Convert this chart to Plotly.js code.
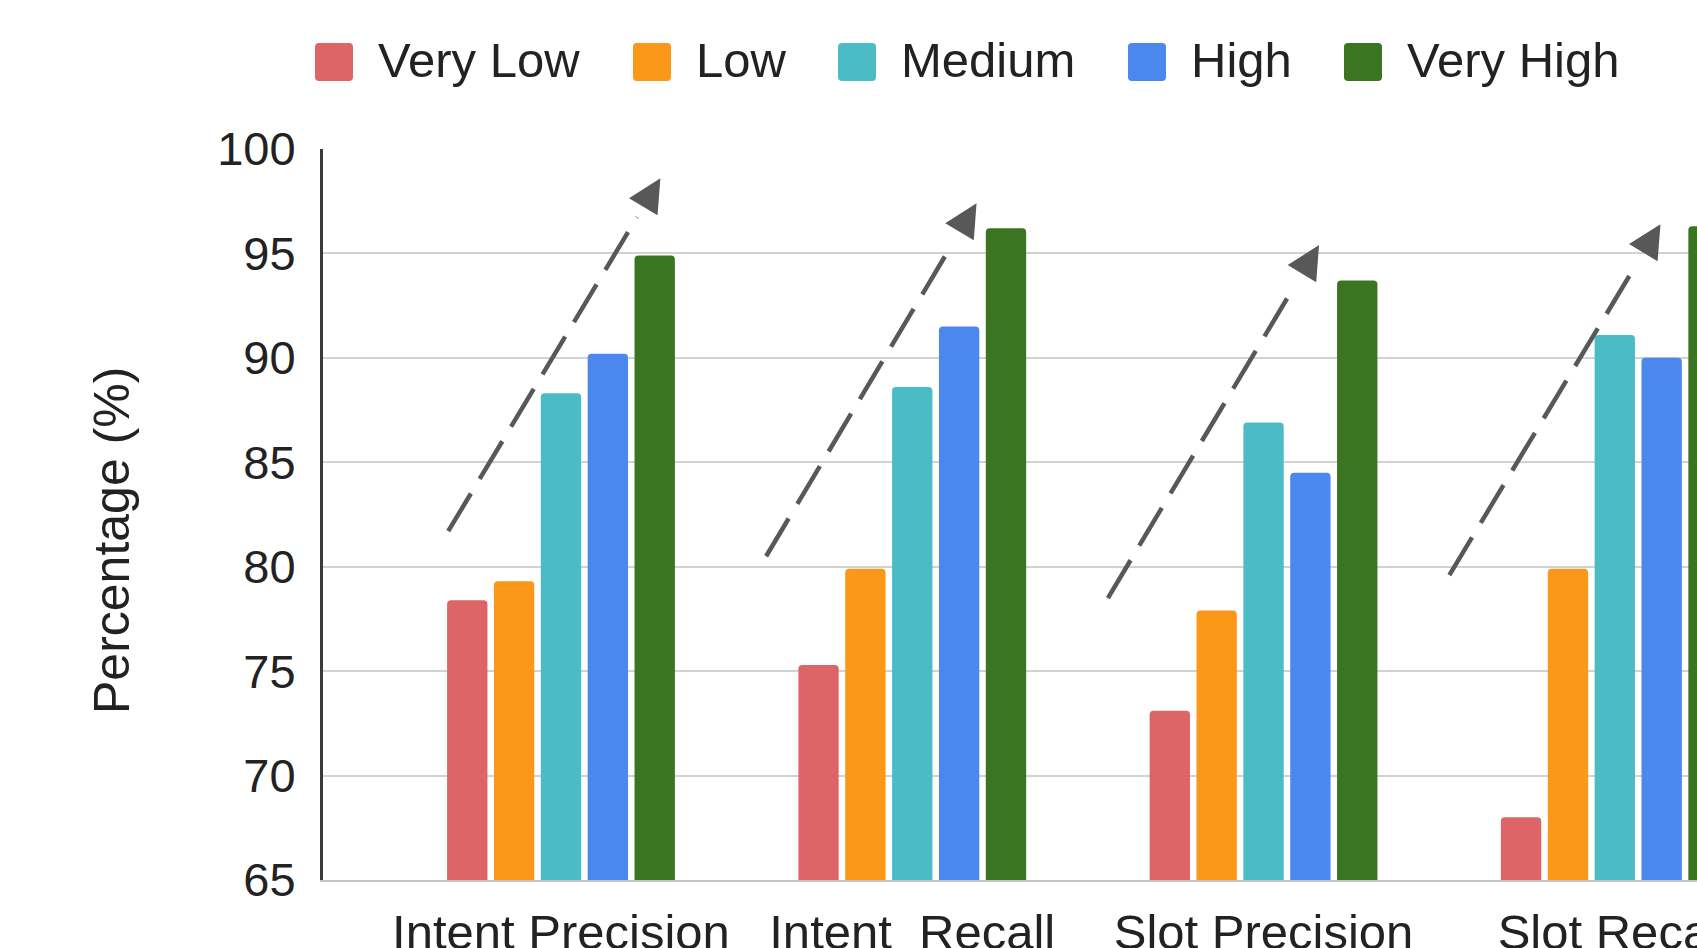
<!DOCTYPE html>
<html>
<head>
<meta charset="utf-8">
<script src="https://cdn.plot.ly/plotly-3.0.1.min.js"></script>
<style>
html, body { margin: 0; padding: 0; background: #ffffff; }
#chart { width: 1697px; height: 948px; }
</style>
</head>
<body>
<div id="chart"></div>
<script>
// ---------------- data ----------------
const categories = ['Intent Precision', 'Intent Recall', 'Slot Precision', 'Slot Recall'];
const tickLabels = ['Intent Precision', 'Intent\u00a0\u00a0Recall', 'Slot Precision', 'Slot Recall'];
const seriesNames = ['Very Low', 'Low', 'Medium', 'High', 'Very High'];
const veryLow  = [78.4, 75.3, 73.1, 68.0];
const low      = [79.3, 79.9, 77.9, 79.9];
const medium   = [88.3, 88.6, 86.9, 91.1];
const high     = [90.2, 91.5, 84.5, 90.0];
const veryHigh = [94.9, 96.2, 93.7, 96.3];
const yTickVals = [65, 70, 75, 80, 85, 90, 95, 100];
const yTitle = 'Percentage (%)';

// ---------------- styles / layout helpers ----------------
const seriesValues = [veryLow, low, medium, high, veryHigh];
const seriesColors = ['#dd6568', '#fb981a', '#4bbcc6', '#4a87ef', '#3b7521'];
const FONT = 'Liberation Sans, Arial, Helvetica, sans-serif';
const TEXT = '#222222';

const W = 1697, H = 948;
const ML = 323, MR = 0, MT = 149, MB = 68;
const PW = W - ML - MR, PH = H - MT - MB;
const px2x = px => (px - ML) / PW;
const px2y = py => (H - MB - py) / PH;

// dashed trend arrows: [x0, y0, x1(tip), y1(tip)] in category-index / value coordinates
const trendArrows = [
  [-0.321, 81.7, 0.283, 98.6],
  [ 0.584, 80.5, 1.183, 97.4],
  [ 1.557, 78.5, 2.158, 95.4],
  [ 2.529, 79.6, 3.130, 96.4]
];

// custom legend swatch left edges (pixels)
const legendSwatchX = [315, 633, 838, 1128, 1344];
const legendSwatchTop = 43, legendSwatchSize = 38, legendTextGap = 61;

// ---------------- traces ----------------
const traces = seriesNames.map((name, i) => ({
  type: 'bar',
  name: name,
  x: categories,
  y: seriesValues[i],
  marker: { color: seriesColors[i], cornerradius: 4, line: { width: 0 } },
  showlegend: false,
  hoverinfo: 'x+y+name'
}));

// ---------------- shapes & annotations ----------------
const shapes = [];
const annotations = [];

trendArrows.forEach(a => {
  const [x0, y0, x1, y1] = a;
  const ex = x1 - 0.11 * (x1 - x0), ey = y1 - 0.11 * (y1 - y0);
  shapes.push({
    type: 'line', xref: 'x', yref: 'y',
    x0: x0, y0: y0, x1: ex, y1: ey,
    line: { color: '#585858', width: 4.5, dash: '44px,17px' },
    layer: 'above'
  });
  const tx = x1 - 0.07 * (x1 - x0), ty = y1 - 0.07 * (y1 - y0);
  annotations.push({
    x: x1, y: y1, xref: 'x', yref: 'y',
    ax: tx, ay: ty, axref: 'x', ayref: 'y',
    text: '', showarrow: true,
    arrowhead: 2, arrowsize: 1.9, arrowwidth: 3.5, arrowcolor: '#585858'
  });
});

function roundRectPath(x, y, w, h, r) {
  const X = v => px2x(v), Y = v => px2y(v);
  return 'M' + X(x + r) + ',' + Y(y) +
    ' L' + X(x + w - r) + ',' + Y(y) +
    ' Q' + X(x + w) + ',' + Y(y) + ' ' + X(x + w) + ',' + Y(y + r) +
    ' L' + X(x + w) + ',' + Y(y + h - r) +
    ' Q' + X(x + w) + ',' + Y(y + h) + ' ' + X(x + w - r) + ',' + Y(y + h) +
    ' L' + X(x + r) + ',' + Y(y + h) +
    ' Q' + X(x) + ',' + Y(y + h) + ' ' + X(x) + ',' + Y(y + h - r) +
    ' L' + X(x) + ',' + Y(y + r) +
    ' Q' + X(x) + ',' + Y(y) + ' ' + X(x + r) + ',' + Y(y) + ' Z';
}

seriesNames.forEach((name, i) => {
  const sx = legendSwatchX[i];
  shapes.push({
    type: 'path', xref: 'paper', yref: 'paper',
    path: roundRectPath(sx, legendSwatchTop, legendSwatchSize, legendSwatchSize, 4),
    fillcolor: seriesColors[i], line: { width: 0 }
  });
  annotations.push({
    xref: 'paper', yref: 'paper',
    x: px2x(sx + legendTextGap), y: px2y(60),
    xanchor: 'left', yanchor: 'middle',
    text: name, showarrow: false,
    font: { family: FONT, size: 49, color: TEXT }
  });
});

annotations.push({
  xref: 'paper', yref: 'paper',
  x: px2x(112), y: px2y(541),
  xanchor: 'center', yanchor: 'middle',
  text: yTitle, textangle: -90, showarrow: false,
  font: { family: FONT, size: 50, color: TEXT }
});

// ---------------- layout ----------------
const layout = {
  width: W, height: H,
  margin: { l: ML, r: MR, t: MT, b: MB, pad: 0 },
  paper_bgcolor: '#ffffff',
  plot_bgcolor: '#ffffff',
  barmode: 'group',
  bargap: 0.333,
  bargroupgap: 0.139,
  showlegend: false,
  font: { family: FONT, color: TEXT },
  xaxis: {
    type: 'category',
    categoryorder: 'array',
    categoryarray: categories,
    range: [-0.6775, 3.234],
    tickmode: 'array',
    tickvals: categories,
    ticktext: tickLabels,
    ticks: '',
    ticklabelstandoff: 8,
    tickfont: { family: FONT, size: 49, color: TEXT },
    showgrid: false,
    showline: true,
    linecolor: '#c4c4c4',
    linewidth: 2,
    zeroline: false,
    automargin: false
  },
  yaxis: {
    range: [65, 100],
    tickmode: 'array',
    tickvals: yTickVals,
    ticks: '',
    ticklabelstandoff: 15,
    tickfont: { family: FONT, size: 47, color: TEXT },
    showgrid: true,
    gridcolor: '#d2d2d2',
    gridwidth: 2,
    showline: true,
    linecolor: '#3a3a3a',
    linewidth: 3,
    zeroline: false,
    automargin: false
  },
  shapes: shapes,
  annotations: annotations
};

Plotly.newPlot('chart', traces, layout, { displayModeBar: false, responsive: false });
</script>
</body>
</html>
